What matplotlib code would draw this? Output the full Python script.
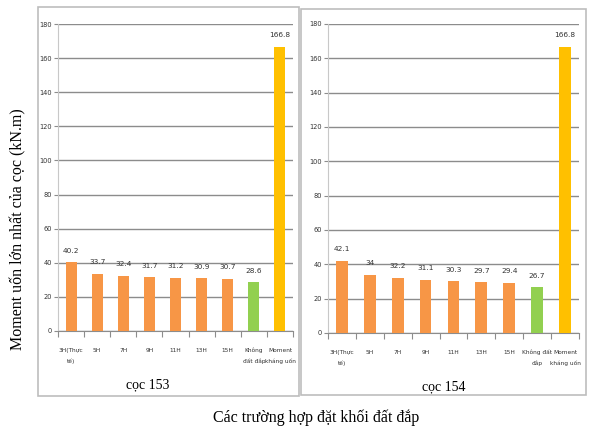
import numpy as np
import matplotlib
matplotlib.use('Agg')
import matplotlib.pyplot as plt
from matplotlib.patches import Rectangle

# data
labels_153 = ['3H(Thực\ntế)', '5H', '7H', '9H', '11H', '13H', '15H', 'Không\nđất đắp', 'Moment\nkháng uốn']
labels_154 = ['3H(Thực\ntế)', '5H', '7H', '9H', '11H', '13H', '15H', 'Không đất\nđắp', 'Moment\nkháng uốn']
values_153 = [40.2, 33.7, 32.4, 31.7, 31.2, 30.9, 30.7, 28.6, 166.8]
values_154 = [42.1, 34, 32.2, 31.1, 30.3, 29.7, 29.4, 26.7, 166.8]
value_text_153 = ['40.2', '33.7', '32.4', '31.7', '31.2', '30.9', '30.7', '28.6', '166.8']
value_text_154 = ['42.1', '34', '32.2', '31.1', '30.3', '29.7', '29.4', '26.7', '166.8']
pile_names = ['cọc 153', 'cọc 154']

ORANGE = '#F79646'
GREEN = '#92D050'
YELLOW = '#FFC000'
bar_colors = [ORANGE] * 7 + [GREEN, YELLOW]

SMALL = ['Liberation Sans Narrow', 'DejaVu Sans']
SERIF = ['Liberation Serif', 'DejaVu Serif']

fig = plt.figure(figsize=(5.96, 4.32), dpi=100)

# panel frames
for (x0, y0, w, h) in [(0.0638, 0.0833, 0.438, 0.900), (0.505, 0.0856, 0.478, 0.8935)]:
    fig.patches.append(Rectangle((x0, y0), w, h, transform=fig.transFigure,
                                 fill=False, edgecolor='#bdbdbd', linewidth=1.2, zorder=0))

ax1 = fig.add_axes([0.0973, 0.2338, 0.3943, 0.7106])
ax2 = fig.add_axes([0.5503, 0.2292, 0.4211, 0.7153])

for ax, labels, vals, vtxt, name in [(ax1, labels_153, values_153, value_text_153, pile_names[0]),
                                     (ax2, labels_154, values_154, value_text_154, pile_names[1])]:
    x = np.arange(len(vals))
    ax.bar(x, vals, width=0.42, color=bar_colors, zorder=3)
    for xi, v, t in zip(x, vals, vtxt):
        ax.annotate(t, (xi, v), xytext=(0, 6), textcoords='offset points',
                    ha='center', va='bottom', fontsize=5.3, family=SMALL, color='#333333')
    ax.set_xlim(-0.5, len(vals) - 0.5)
    ax.set_ylim(0, 180)
    ax.set_yticks(np.arange(0, 181, 20))
    ax.yaxis.grid(True, color='#8c8c8c', linewidth=1.0, zorder=0)
    ax.set_axisbelow(True)
    ax.set_xticks(x)
    ax.set_xticklabels(labels, fontsize=4.2, family=SMALL, color='#333333', linespacing=2.2)
    ax.set_xticks(np.arange(-0.5, len(vals), 1), minor=True)
    ax.tick_params(axis='x', which='major', length=0, pad=12)
    ax.tick_params(axis='x', which='minor', length=4, color='#8c8c8c', width=0.8)
    ax.tick_params(axis='y', length=3, color='#8c8c8c', width=0.8, pad=1.5,
                   labelsize=4.8, labelcolor='#333333')
    for lab in ax.get_yticklabels():
        lab.set_family(SMALL)
    for s in ['top', 'right']:
        ax.spines[s].set_visible(False)
    ax.spines['left'].set_color('#c8c8c8')
    ax.spines['bottom'].set_color('#8c8c8c')
    ax.text(0.38 if ax is ax1 else 0.46, -0.175, name, transform=ax.transAxes,
            ha='center', va='center', fontsize=10, family=SERIF)

fig.text(0.03, 0.47, 'Moment uốn lớn nhất của cọc (kN.m)', rotation=90,
         ha='center', va='center', fontsize=11.5, family=SERIF)
fig.text(0.53, 0.033, 'Các trường hợp đặt khối đất đắp',
         ha='center', va='center', fontsize=11.5, family=SERIF)

fig.savefig('out.png', dpi=100)
